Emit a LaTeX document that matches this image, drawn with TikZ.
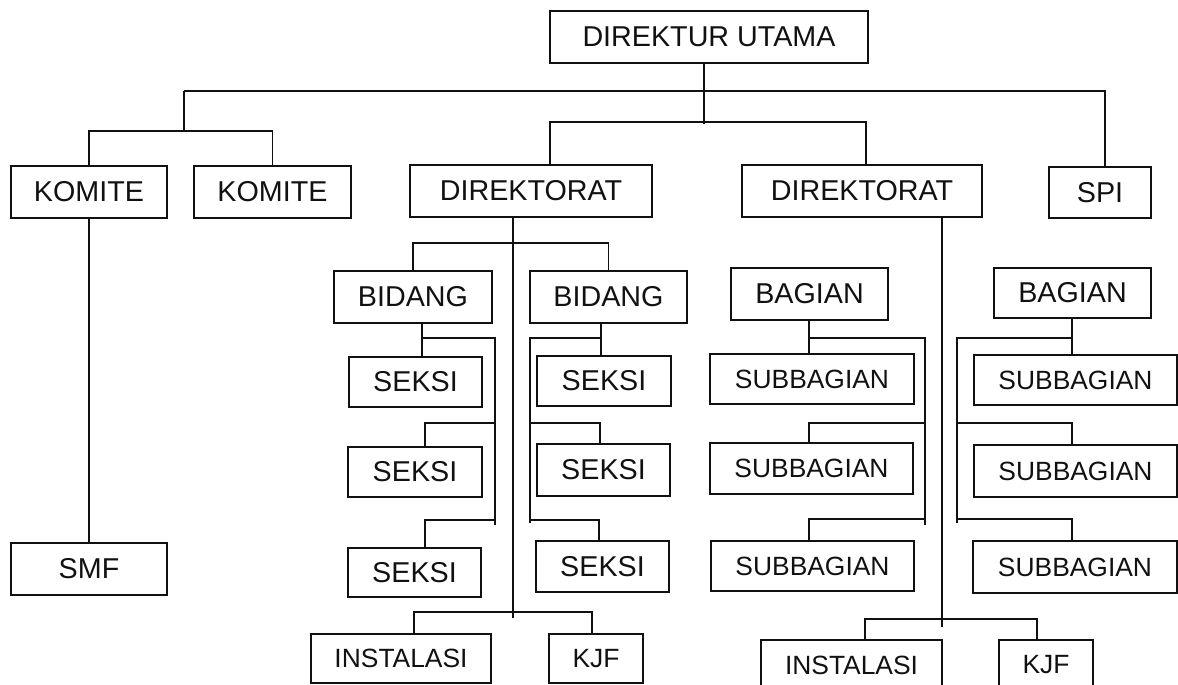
\documentclass[tikz,border=0pt]{standalone}
\usepackage{fontspec}
\setmainfont{Liberation Sans}
\definecolor{Ink}{HTML}{111111}
\tikzset{
  unit/.style={draw=Ink,line width=2.2pt,inner sep=0pt,minimum height=52pt,text=Ink,font=\fontsize{28.7}{31}\selectfont},
  subunit/.style={unit,minimum height=50pt,font=\fontsize{26.4}{29}\selectfont},
  link/.style={draw=Ink,line width=1.2pt}
}
\begin{document}
\begin{tikzpicture}[x=1pt,y=-1pt]
  \useasboundingbox (0,0) rectangle (1178,685);
  \node[unit,minimum width=318pt] (du) at (709,37) {DIREKTUR UTAMA};
  \node[unit,minimum width=156pt] (kom1) at (89,192) {KOMITE};
  \node[unit,minimum width=157pt] (kom2) at (272.5,192) {KOMITE};
  \node[unit,minimum width=242pt] (dir1) at (531,191) {DIREKTORAT};
  \node[unit,minimum width=240pt] (dir2) at (862,191) {DIREKTORAT};
  \node[unit,minimum width=102pt,minimum height=51pt] (spi) at (1100,192.5) {SPI};
  \node[unit,minimum width=156pt] (smf) at (89,569) {SMF};
  \node[unit,minimum width=158pt] (bid1) at (413,297) {BIDANG};
  \node[unit,minimum width=157pt] (bid2) at (608.5,297) {BIDANG};
  \node[unit,minimum width=133pt,minimum height=50pt] (sek1L) at (415.5,382) {SEKSI};
  \node[unit,minimum width=134pt,minimum height=50pt] (sek2L) at (415,472) {SEKSI};
  \node[unit,minimum width=133pt,minimum height=49pt] (sek3L) at (414.5,572.5) {SEKSI};
  \node[unit,minimum width=134pt,minimum height=50pt] (sek1R) at (604,381) {SEKSI};
  \node[unit,minimum width=133pt] (sek2R) at (603.5,470) {SEKSI};
  \node[unit,minimum width=133pt,minimum height=51pt] (sek3R) at (602.5,566.5) {SEKSI};
  \node[subunit,minimum width=180pt,minimum height=49pt] (ins1) at (401,658.5) {INSTALASI};
  \node[subunit,minimum width=94pt,minimum height=49pt] (kjf1) at (596,658.5) {KJF};
  \node[unit,minimum width=157pt] (bag1) at (809.5,294) {BAGIAN};
  \node[unit,minimum width=157pt,minimum height=50pt] (bag2) at (1072.5,293) {BAGIAN};
  \node[subunit,minimum width=204pt] (sub1L) at (812,379) {SUBBAGIAN};
  \node[subunit,minimum width=203pt,minimum height=51pt] (sub2L) at (811.5,468.5) {SUBBAGIAN};
  \node[subunit,minimum width=203pt] (sub3L) at (812.5,566) {SUBBAGIAN};
  \node[subunit,minimum width=203pt] (sub1R) at (1075.5,380) {SUBBAGIAN};
  \node[subunit,minimum width=203pt,minimum height=52pt] (sub2R) at (1075.5,471) {SUBBAGIAN};
  \node[subunit,minimum width=204pt,minimum height=52pt] (sub3R) at (1075,567) {SUBBAGIAN};
  \node[subunit,minimum width=181pt] (ins2) at (851.5,665) {INSTALASI};
  \node[subunit,minimum width=94pt] (kjf2) at (1046,665) {KJF};
  \coordinate (ta) at (184,91); \coordinate (tb) at (1105,91);
  \coordinate (kj) at (184,131); \coordinate (dj) at (704,124);
  \coordinate (da) at (550,122); \coordinate (db) at (866,122);
  \draw[link] (du.south -| dj) -- (dj);
  \draw[link] (ta) -- (tb) -- (spi.north -| tb);
  \draw[link] (ta) -- (kj);
  \draw[link] (kom1.north) |- (kj) -| (kom2.north);
  \draw[link] (dir1.north -| da) -- (da) -- (db) -- (dir2.north -| db);
  \draw[link] (kom1.south) -- (smf.north);
  \coordinate (s1) at (513,618); \coordinate (b1) at (513,243);
  \draw[link] (dir1.south -| s1) -- (s1);
  \draw[link] (bid1.north) |- (b1) -| (bid2.north);
  \coordinate (l1) at (422,338); \coordinate (r1) at (495,338); \coordinate (r1b) at (495,525);
  \coordinate (l2) at (425,423); \coordinate (l3) at (425,520);
  \draw[link] (bid1.south -| l1) -- (l1 |- sek1L.north);
  \draw[link] (l1) -- (r1) -- (r1b);
  \draw[link] (l2 -| r1) -- (l2) -- (l2 |- sek2L.north);
  \draw[link] (l3 -| r1) -- (l3) -- (l3 |- sek3L.north);
  \coordinate (q1) at (601,338); \coordinate (p1) at (530,338); \coordinate (p1b) at (530,523);
  \coordinate (q2) at (600,423); \coordinate (q3) at (599,520);
  \draw[link] (bid2.south -| q1) -- (q1 |- sek1R.north);
  \draw[link] (q1) -- (p1) -- (p1b);
  \draw[link] (q2 -| p1) -- (q2) -- (q2 |- sek2R.north);
  \draw[link] (q3 -| p1) -- (q3) -- (q3 |- sek3R.north);
  \coordinate (ia) at (414,612); \coordinate (ib) at (592,612);
  \draw[link] (ins1.north -| ia) -- (ia) -- (ib) -- (kjf1.north -| ib);
  \coordinate (s2) at (942,627);
  \draw[link] (dir2.south -| s2) -- (s2);
  \coordinate (m1) at (809,338); \coordinate (n1) at (925,338); \coordinate (n1b) at (925,525);
  \coordinate (m2) at (809,423); \coordinate (m3) at (809,519);
  \draw[link] (bag1.south -| m1) -- (m1 |- sub1L.north);
  \draw[link] (m1) -- (n1) -- (n1b);
  \draw[link] (m2 -| n1) -- (m2) -- (m2 |- sub2L.north);
  \draw[link] (m3 -| n1) -- (m3) -- (m3 |- sub3L.north);
  \coordinate (u1) at (1072,338); \coordinate (v1) at (957,338); \coordinate (v1b) at (957,523);
  \coordinate (u2) at (1072,423); \coordinate (u3) at (1072,519);
  \draw[link] (bag2.south -| u1) -- (u1 |- sub1R.north);
  \draw[link] (u1) -- (v1) -- (v1b);
  \draw[link] (u2 -| v1) -- (u2) -- (u2 |- sub2R.north);
  \draw[link] (u3 -| v1) -- (u3) -- (u3 |- sub3R.north);
  \coordinate (ic) at (865,619); \coordinate (id) at (1037,619);
  \draw[link] (ins2.north -| ic) -- (ic) -- (id) -- (kjf2.north -| id);
\end{tikzpicture}
\end{document}
